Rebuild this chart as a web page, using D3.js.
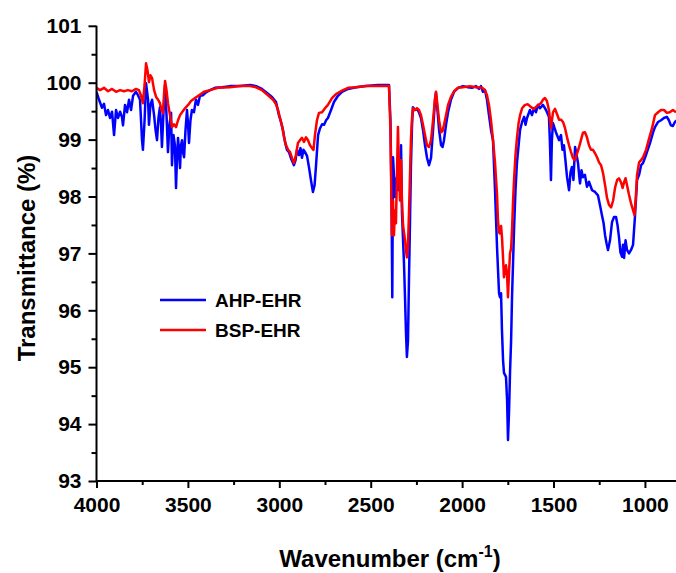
<!DOCTYPE html>
<html>
<head>
<meta charset="utf-8">
<script src="https://cdn.jsdelivr.net/npm/d3@7"></script>
<style>
  html, body { margin: 0; padding: 0; background: #fff; }
  svg { display: block; }
  text { font-family: "Liberation Sans", Arial, sans-serif; font-weight: bold; fill: #000; }
</style>
</head>
<body>
<svg id="chart" width="676" height="573"></svg>
<script>
// ---- Data ----
const seriesNames = ["AHP-EHR", "BSP-EHR"];
const seriesColors = ["#0000ff", "#ff0000"];

const xTicks = [4000, 3500, 3000, 2500, 2000, 1500, 1000];
const yTicks = [93, 94, 95, 96, 97, 98, 99, 100, 101];

const ahpWavenumber = [4000,3986,3970,3959,3948,3937,3926,3915,3904,3893,3882,3871,3861,3855,3844,3833,3822,3811,3800,3784,3773,3762,3751,3746,3737,3729,3718,3713,3705,3696,3685,3677,3669,3661,3653,3647,3642,3633,3625,3617,3609,3601,3592,3587,3579,3571,3565,3560,3554,3549,3543,3538,3532,3527,3521,3513,3505,3499,3494,3486,3478,3467,3456,3445,3434,3417,3401,3379,3352,3313,3270,3215,3160,3127,3095,3067,3040,3018,3002,2991,2980,2969,2958,2947,2936,2925,2920,2911,2903,2892,2884,2876,2868,2859,2848,2837,2827,2816,2807,2799,2788,2777,2766,2755,2744,2734,2717,2701,2679,2657,2624,2580,2526,2460,2400,2392,2386,2382,2378,2373,2367,2362,2356,2351,2342,2334,2329,2323,2318,2312,2307,2302,2296,2291,2285,2280,2274,2269,2258,2247,2236,2225,2214,2203,2192,2181,2170,2159,2148,2143,2135,2126,2115,2107,2099,2088,2077,2061,2044,2022,1995,1968,1946,1924,1908,1897,1886,1875,1864,1853,1842,1831,1820,1809,1798,1793,1787,1782,1776,1771,1760,1754,1749,1743,1738,1732,1727,1721,1716,1708,1700,1691,1683,1672,1661,1653,1645,1629,1618,1607,1596,1585,1574,1558,1541,1525,1520,1514,1509,1503,1487,1470,1459,1451,1443,1434,1426,1415,1407,1399,1391,1382,1374,1366,1360,1355,1347,1339,1328,1317,1306,1289,1273,1257,1246,1235,1226,1218,1210,1202,1191,1180,1169,1158,1150,1142,1134,1125,1120,1114,1106,1098,1087,1076,1065,1054,1043,1032,1021,1010,994,972,955,945,928,912,896,880,869,858,847,836,825];
const ahpTransmittance = [99.84,99.70,99.56,99.63,99.43,99.52,99.38,99.49,99.08,99.52,99.38,99.49,99.40,99.25,99.61,99.48,99.70,99.52,99.77,99.84,99.78,99.70,98.99,98.82,99.34,99.99,99.70,99.26,99.61,99.70,99.43,99.17,98.99,99.38,99.57,99.26,98.87,99.52,99.96,99.43,98.78,99.26,99.47,98.55,99.08,98.90,98.15,98.64,99.03,98.82,98.50,98.90,98.99,98.78,98.69,99.17,99.52,99.26,98.94,99.34,99.52,99.48,99.70,99.61,99.77,99.78,99.83,99.87,99.91,99.92,99.94,99.94,99.96,99.94,99.89,99.82,99.75,99.66,99.43,99.31,99.17,98.96,98.82,98.78,98.67,98.59,98.55,98.64,98.82,98.73,98.85,98.68,98.82,98.78,98.71,98.50,98.29,98.08,98.20,98.55,99.08,99.20,99.27,99.26,99.34,99.38,99.52,99.66,99.77,99.84,99.89,99.92,99.94,99.96,99.96,99.34,97.94,96.23,98.69,98.38,97.99,98.29,98.34,98.11,98.29,98.90,97.71,97.23,96.83,96.18,95.60,95.18,95.47,96.48,97.58,98.52,99.26,99.57,99.52,99.54,99.48,99.38,99.17,98.90,98.68,98.55,98.68,99.17,99.70,99.82,99.52,99.17,98.90,98.87,98.99,99.26,99.48,99.70,99.84,99.91,99.94,99.92,99.91,99.94,99.89,99.94,99.84,99.87,99.70,99.43,99.17,98.99,98.11,97.11,96.30,96.23,96.30,95.65,95.12,94.90,94.83,94.42,93.72,94.25,94.90,95.47,96.23,96.88,97.41,98.11,98.59,98.90,99.17,99.31,99.40,99.26,99.38,99.52,99.43,99.55,99.48,99.61,99.55,99.61,99.52,99.40,98.99,98.29,98.99,99.29,99.13,98.99,99.08,98.82,98.90,98.61,98.34,98.11,98.43,98.52,98.29,98.87,98.73,98.59,98.38,98.23,98.46,98.34,98.38,98.17,98.26,98.11,98.08,98.02,97.85,97.67,97.53,97.32,97.18,97.06,97.23,97.55,97.64,97.64,97.50,97.29,97.02,96.94,97.15,96.92,97.23,97.06,97.00,97.06,97.15,97.67,98.29,98.38,98.55,98.59,98.73,98.94,99.13,99.22,99.31,99.34,99.38,99.40,99.34,99.25,99.24,99.31,99.34];

const bspWavenumber = [4000,3981,3959,3937,3915,3893,3871,3850,3828,3806,3784,3768,3757,3746,3737,3729,3721,3713,3705,3696,3685,3674,3663,3653,3644,3636,3631,3625,3617,3609,3598,3587,3576,3565,3554,3543,3532,3516,3499,3483,3461,3439,3412,3379,3335,3270,3215,3160,3127,3095,3062,3034,3018,3007,2996,2985,2974,2963,2952,2941,2930,2920,2909,2898,2887,2876,2865,2854,2843,2832,2821,2813,2805,2794,2783,2766,2750,2734,2712,2690,2663,2624,2580,2526,2460,2400,2392,2384,2378,2373,2367,2362,2356,2351,2345,2340,2334,2329,2323,2318,2312,2307,2302,2296,2291,2285,2280,2274,2269,2258,2247,2236,2225,2214,2203,2192,2181,2170,2159,2148,2143,2135,2126,2115,2107,2099,2088,2077,2061,2044,2022,1995,1957,1924,1891,1875,1864,1853,1842,1831,1820,1809,1804,1798,1793,1787,1782,1776,1771,1765,1760,1754,1749,1743,1738,1732,1727,1721,1716,1708,1700,1691,1683,1672,1656,1640,1623,1607,1591,1569,1558,1547,1536,1525,1514,1503,1492,1481,1470,1459,1448,1437,1426,1415,1404,1393,1382,1371,1360,1350,1339,1328,1317,1306,1295,1284,1273,1262,1251,1240,1229,1218,1207,1196,1185,1174,1163,1152,1142,1131,1122,1114,1106,1098,1087,1076,1065,1057,1049,1043,1032,1021,1010,994,972,961,945,928,912,896,880,864,847,830];
const bspTransmittance = [99.91,99.87,99.91,99.85,99.89,99.84,99.87,99.85,99.87,99.85,99.89,99.87,99.78,99.64,99.96,100.34,100.22,100.01,100.13,100.08,99.87,99.75,99.70,99.64,99.52,99.47,99.78,100.03,99.87,99.64,99.43,99.22,99.27,99.22,99.34,99.43,99.48,99.55,99.61,99.68,99.73,99.78,99.84,99.87,99.91,99.92,99.94,99.94,99.92,99.87,99.78,99.70,99.62,99.52,99.38,99.24,99.04,98.90,98.82,98.78,98.67,98.59,98.73,98.94,98.99,99.03,98.96,99.04,98.99,98.90,98.85,98.82,99.08,99.34,99.47,99.48,99.55,99.61,99.73,99.80,99.85,99.91,99.92,99.94,99.94,99.94,99.17,97.32,97.93,97.32,97.76,97.53,98.46,99.22,98.46,97.93,98.64,97.90,97.50,97.37,97.23,97.06,96.93,97.15,97.67,98.38,98.99,99.38,99.55,99.52,99.55,99.52,99.43,99.26,99.08,98.90,98.87,98.99,99.34,99.73,99.84,99.61,99.34,99.13,99.15,99.26,99.43,99.61,99.75,99.85,99.91,99.92,99.94,99.92,99.91,99.87,99.78,99.61,99.34,98.99,98.59,98.03,97.59,97.37,97.35,97.48,97.29,96.92,96.58,96.70,96.79,96.62,96.23,96.70,97.00,97.09,97.41,97.94,98.29,98.73,99.03,99.29,99.43,99.55,99.61,99.62,99.57,99.54,99.59,99.64,99.70,99.73,99.68,99.52,99.20,99.48,99.54,99.45,99.35,99.35,99.31,99.20,99.04,98.90,98.78,98.67,98.64,98.76,98.87,98.99,99.12,99.13,99.04,98.90,98.82,98.82,98.76,98.69,98.60,98.55,98.41,98.20,97.97,97.85,97.81,97.93,98.16,98.29,98.32,98.25,98.15,98.25,98.32,98.20,98.03,97.88,97.76,97.67,98.03,98.38,98.60,98.64,98.69,98.82,99.08,99.20,99.43,99.48,99.52,99.52,99.47,99.48,99.52,99.48];

// ---- Layout ----
const svg = d3.select("#chart");
const plotLeft = 96.5, plotRight = 676, plotTop = 25.8, plotBottom = 481;

const x = d3.scaleLinear().domain([4000, 830]).range([plotLeft, plotRight]);
const y = d3.scaleLinear().domain([93, 101]).range([plotBottom, plotTop]);

svg.append("defs").append("clipPath").attr("id", "plotclip")
  .append("rect").attr("x", plotLeft).attr("y", 0).attr("width", plotRight - plotLeft + 2).attr("height", plotBottom);

const series = [
  { name: seriesNames[0], color: seriesColors[0], xs: ahpWavenumber, ys: ahpTransmittance },
  { name: seriesNames[1], color: seriesColors[1], xs: bspWavenumber, ys: bspTransmittance }
];

const line = d3.line().x(d => x(d[0])).y(d => y(d[1]));

const g = svg.append("g").attr("clip-path", "url(#plotclip)");
series.forEach(s => {
  const pts = s.xs.map((w, i) => [w, s.ys[i]]);
  g.append("path").datum(pts)
    .attr("fill", "none").attr("stroke", s.color)
    .attr("stroke-width", 2.5).attr("stroke-linejoin", "round")
    .attr("d", line);
});

// ---- Axes ----
const xMinor = d3.range(3750, 829, -500);
const yMinor = d3.range(93.5, 101, 1);

const xAxis = svg.append("g").attr("transform", `translate(0,${plotBottom})`)
  .call(d3.axisBottom(x).tickValues(xTicks).tickSize(7).tickPadding(4).tickFormat(d3.format("d")));
xAxis.select(".domain").attr("d", `M${plotLeft},0H${plotRight}`);
xAxis.selectAll(".tick text").style("font-size", "21px").attr("dy", "0.95em");
svg.append("g").attr("transform", `translate(0,${plotBottom})`)
  .call(d3.axisBottom(x).tickValues(xMinor).tickSize(4).tickFormat(""))
  .select(".domain").remove();

const yAxis = svg.append("g").attr("transform", `translate(${plotLeft},0)`)
  .call(d3.axisLeft(y).tickValues(yTicks).tickSize(8).tickPadding(7).tickFormat(d3.format("d")));
yAxis.select(".domain").attr("d", `M0,${plotTop}V${plotBottom}`);
yAxis.selectAll(".tick text").style("font-size", "21px");
svg.append("g").attr("transform", `translate(${plotLeft},0)`)
  .call(d3.axisLeft(y).tickValues(yMinor).tickSize(5).tickFormat(""))
  .select(".domain").remove();

svg.selectAll(".domain, .tick line").attr("stroke", "#000").attr("stroke-width", 2);

// ---- Titles ----
const xt = svg.append("text").attr("x", 390).attr("y", 567)
  .attr("text-anchor", "middle").style("font-size", "24px");
xt.append("tspan").text("Wavenumber (cm");
xt.append("tspan").text("-1").attr("dy", -10).style("font-size", "16px");
xt.append("tspan").text(")").attr("dy", 10);

svg.append("text")
  .attr("transform", `translate(35,258) rotate(-90)`)
  .attr("text-anchor", "middle").style("font-size", "24px")
  .text("Transmittance (%)");

// ---- Legend ----
const legend = svg.append("g");
series.forEach((s, i) => {
  const ly = 300 + i * 30;
  legend.append("line").attr("x1", 160).attr("x2", 206).attr("y1", ly).attr("y2", ly)
    .attr("stroke", s.color).attr("stroke-width", 2.5);
  legend.append("text").attr("x", 215).attr("y", ly + 7)
    .style("font-size", "19px").text(s.name);
});
</script>
</body>
</html>
